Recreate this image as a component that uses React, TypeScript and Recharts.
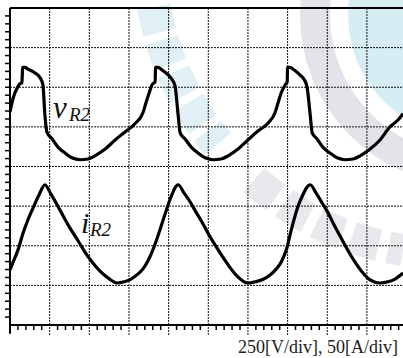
import React from 'react';
import { LineChart, Line, XAxis, YAxis, ReferenceLine } from 'recharts';

// time axis in divisions, values in divisions (250 V/div, 50 A/div)
const vTime = [0, 0.08, 0.18, 0.25, 0.30, 0.32, 0.38, 0.45, 0.63, 0.76, 0.83, 0.88, 0.93, 1.06, 1.21, 1.39, 1.56, 1.77, 1.97, 2.14, 2.40, 2.65, 2.90, 3.15, 3.35, 3.43, 3.51, 3.58, 3.66, 3.67, 3.73, 3.83, 3.99, 4.09, 4.16, 4.24, 4.29, 4.41, 4.57, 4.74, 4.92, 5.12, 5.32, 5.50, 5.75, 6.00, 6.26, 6.51, 6.68, 6.76, 6.84, 6.94, 6.99, 7.00, 7.06, 7.16, 7.31, 7.42, 7.49, 7.57, 7.62, 7.74, 7.89, 8.07, 8.25, 8.45, 8.65, 8.83, 9.08, 9.33, 9.58, 9.79, 9.91];
const vValue = [5.38, 5.73, 5.98, 6.09, 6.11, 6.50, 6.50, 6.46, 6.36, 6.24, 6.06, 5.30, 4.87, 4.70, 4.49, 4.34, 4.22, 4.17, 4.19, 4.27, 4.44, 4.67, 4.87, 5.08, 5.35, 5.61, 5.86, 6.06, 6.14, 6.50, 6.50, 6.44, 6.31, 6.19, 6.04, 5.30, 4.85, 4.70, 4.49, 4.34, 4.22, 4.17, 4.19, 4.27, 4.44, 4.67, 4.90, 5.10, 5.35, 5.61, 5.86, 6.06, 6.14, 6.50, 6.50, 6.44, 6.31, 6.19, 6.01, 5.30, 4.85, 4.70, 4.49, 4.34, 4.22, 4.17, 4.19, 4.27, 4.44, 4.67, 5.00, 5.18, 5.33];

const iTime = [0, 0.10, 0.20, 0.33, 0.45, 0.58, 0.73, 0.88, 1.03, 1.19, 1.34, 1.51, 1.72, 1.89, 2.07, 2.27, 2.47, 2.70, 2.88, 3.05, 3.23, 3.35, 3.48, 3.58, 3.68, 3.78, 3.91, 4.04, 4.24, 4.39, 4.54, 4.69, 4.84, 4.99, 5.17, 5.35, 5.52, 5.72, 6.00, 6.18, 6.36, 6.56, 6.71, 6.84, 6.94, 6.99, 7.06, 7.14, 7.24, 7.36, 7.57, 7.72, 7.87, 8.02, 8.17, 8.32, 8.50, 8.68, 8.88, 9.08, 9.33, 9.53, 9.71, 9.91];
const iValue = [1.39, 1.64, 1.89, 2.32, 2.65, 2.95, 3.28, 3.54, 3.31, 3.03, 2.75, 2.45, 2.12, 1.84, 1.59, 1.36, 1.19, 1.06, 1.09, 1.16, 1.29, 1.41, 1.62, 1.84, 2.10, 2.40, 2.80, 3.18, 3.54, 3.33, 3.11, 2.85, 2.60, 2.32, 2.02, 1.74, 1.49, 1.24, 1.06, 1.09, 1.14, 1.26, 1.41, 1.59, 1.82, 1.97, 2.27, 2.58, 2.93, 3.23, 3.54, 3.33, 3.08, 2.83, 2.53, 2.25, 1.92, 1.62, 1.34, 1.14, 1.06, 1.09, 1.16, 1.31];

const majorX = [1, 2, 3, 4, 5, 6, 7, 8, 9];
const majorY = [1, 2, 3, 4, 5, 6, 7];
const minorX = Array.from({ length: 50 }, (_, k) => Number((k * 0.2).toFixed(1))).filter((x) => x % 1 !== 0);
const minorY = Array.from({ length: 39 }, (_, k) => Number(((k + 1) * 0.2).toFixed(1)));

const vLabel = { main: 'v', sub: 'R2' };
const iLabel = { main: 'i', sub: 'R2' };
const scaleText = '250[V/div], 50[A/div]';

const vData = vTime.map((t, k) => ({ t, v: vValue[k] }));
const iData = iTime.map((t, k) => ({ t, i: iValue[k] }));

const serif = "'Liberation Serif', 'Times New Roman', serif";
const NoLabel = () => <g />;

export default function App() {
  return (
    <div style={{ position: 'fixed', left: 0, top: 0, width: 403, height: 358, background: '#fff', overflow: 'hidden' }}>
      <svg width={403} height={358} style={{ position: 'absolute', left: 0, top: 0 }}>
        <circle cx={470} cy={15} r={155} fill="none" stroke="#e3e4ea" strokeWidth={30} />
        <circle cx={470} cy={15} r={122} fill="#d6edf3" />
        <path d="M 154 7 A 292 292 0 0 0 218 144" fill="none" stroke="#e0f0f5" strokeWidth={34} strokeDasharray="26 8" />
        <path d="M 254 180 A 292 292 0 0 0 403 250" fill="none" stroke="#e8e8ed" strokeWidth={32} strokeDasharray="28 10" />
      </svg>
      <div style={{ position: 'absolute', left: 0, top: 0 }}>
        <LineChart width={403} height={358} margin={{ top: 8, right: 0, bottom: 31, left: 0 }}>
          <XAxis
            type="number"
            dataKey="t"
            domain={[0, 9.91]}
            allowDataOverflow
            ticks={minorX}
            interval={0}
            tick={NoLabel}
            tickSize={5}
            tickLine={{ stroke: '#000', strokeWidth: 1.5 }}
            axisLine={{ stroke: '#000', strokeWidth: 2 }}
            height={1}
          />
          <XAxis
            xAxisId="major"
            type="number"
            dataKey="t"
            domain={[0, 9.91]}
            allowDataOverflow
            ticks={majorX}
            interval={0}
            tick={NoLabel}
            tickSize={9}
            tickLine={{ stroke: '#111', strokeWidth: 1, strokeDasharray: '2 1' }}
            axisLine={false}
            height={1}
          />
          <YAxis
            type="number"
            domain={[0, 8]}
            ticks={minorY}
            interval={0}
            tick={NoLabel}
            tickSize={5}
            tickLine={{ stroke: '#000', strokeWidth: 1.5 }}
            axisLine={{ stroke: '#000', strokeWidth: 2 }}
            width={10}
          />
          {majorX.map((x) => (
            <ReferenceLine key={'gx' + x} x={x} stroke="#111" strokeWidth={1} strokeDasharray="2 1" />
          ))}
          {majorY.map((y) => (
            <ReferenceLine key={'gy' + y} y={y} stroke="#111" strokeWidth={1} strokeDasharray="2 1" />
          ))}
          <ReferenceLine y={8} stroke="#000" strokeWidth={2} />
          <ReferenceLine
            segment={[{ x: 0, y: -0.22 }, { x: 0, y: 0 }]}
            stroke="#000"
            strokeWidth={2}
            ifOverflow="visible"
          />
          <Line data={vData} dataKey="v" type="monotone" stroke="#000" strokeWidth={3.2} dot={false} isAnimationActive={false} />
          <Line data={iData} dataKey="i" type="monotone" stroke="#000" strokeWidth={3.2} dot={false} isAnimationActive={false} />
        </LineChart>
      </div>
      <svg width={403} height={358} style={{ position: 'absolute', left: 0, top: 0, pointerEvents: 'none' }}>
        <text x={53} y={118} fontFamily={serif} fontStyle="italic" fontSize={31} fill="#111">{vLabel.main}</text>
        <text x={69} y={121} fontFamily={serif} fontStyle="italic" fontSize={19} fill="#111">{vLabel.sub}</text>
        <text x={81} y={233} fontFamily={serif} fontStyle="italic" fontSize={30} fill="#111">{iLabel.main}</text>
        <text x={90} y={236} fontFamily={serif} fontStyle="italic" fontSize={19} fill="#111">{iLabel.sub}</text>
        <text x={238} y={353} fontFamily={serif} fontSize={18} fill="#222">{scaleText}</text>
      </svg>
    </div>
  );
}
